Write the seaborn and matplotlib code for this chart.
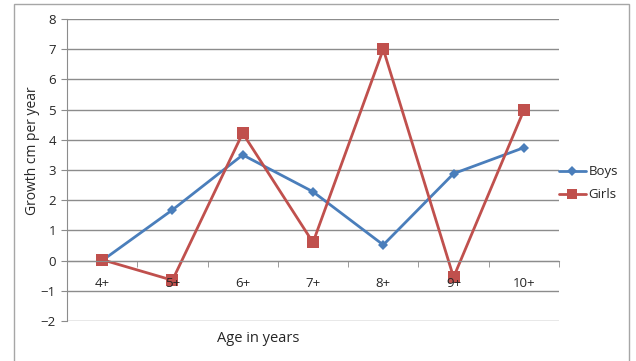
import matplotlib
matplotlib.use("Agg")
import matplotlib.pyplot as plt
from matplotlib.patches import Rectangle
from matplotlib.lines import Line2D
from matplotlib.ticker import FixedLocator
import seaborn as sns
import pandas as pd

# Growth per year by age group
ages = ["4+", "5+", "6+", "7+", "8+", "9+", "10+"]
boys = [0.0, 1.68, 3.5, 2.28, 0.52, 2.88, 3.74]
girls = [0.03, -0.65, 4.22, 0.6, 7.0, -0.55, 4.98]
series_names = ["Boys", "Girls"]
y_ticks = [-2, -1, 0, 1, 2, 3, 4, 5, 6, 7, 8]

df = pd.DataFrame({
    "age": ages * 2,
    "growth": boys + girls,
    "group": [series_names[0]] * len(ages) + [series_names[1]] * len(ages),
})

sns.set_style("white")
plt.rcParams["font.family"] = ["Open Sans", "DejaVu Sans"]

blue = "#4A7EBB"
red = "#C0504D"
grid_c = "#8C8C8C"
text_c = "#262626"

fig = plt.figure(figsize=(6.36, 3.61), dpi=100)
ax = fig.add_axes([67 / 636, 1 - 321 / 361, (559 - 67) / 636, (321 - 19) / 361])

sns.lineplot(
    data=df, x="age", y="growth", hue="group", style="group",
    palette={"Boys": blue, "Girls": red},
    markers={"Boys": "D", "Girls": "s"}, dashes=False,
    markersize=7, linewidth=2.0, markeredgewidth=0,
    sort=False, ax=ax, legend=False,
)
for line, ms in zip(ax.lines, [5.5, 8]):
    line.set_markersize(ms)
    line.set_zorder(2)

ax.set_xlim(-0.5, len(ages) - 0.5)
ax.set_ylim(-2, 8)
ax.set_yticks(y_ticks)
# horizontal gridlines kept beneath the series; axis labels stay on top
for yv in y_ticks:
    ax.axhline(yv, color=grid_c, linewidth=1.0, zorder=0.5)
ax.set_axisbelow(False)

for side in ["top", "right"]:
    ax.spines[side].set_visible(False)
ax.spines["left"].set_color(grid_c)
ax.spines["bottom"].set_color(grid_c)
ax.spines["bottom"].set_position(("data", 0))

ax.tick_params(axis="y", left=True, length=4, color=grid_c, labelsize=9.5,
               labelcolor=text_c, pad=4)
ax.xaxis.set_minor_locator(FixedLocator([i + 0.5 for i in range(-1, len(ages))]))
ax.tick_params(axis="x", which="minor", bottom=True, length=4, color=grid_c)
ax.tick_params(axis="x", which="major", bottom=False, length=0, pad=12,
               labelsize=9.5, labelcolor=text_c)

ax.set_xlabel("")
ax.set_ylabel("")
fig.text(33 / 636, 1 - 151 / 361, "Growth cm per year", rotation=90,
         ha="center", va="center", fontsize=10, color=text_c)
fig.text(258 / 636, 1 - 339 / 361, "Age in years", ha="center", va="center",
         fontsize=10.5, color=text_c)

# legend on the right
handles = [
    Line2D([], [], color=blue, marker="D", markersize=5.5, linewidth=2.0, markeredgewidth=0),
    Line2D([], [], color=red, marker="s", markersize=7, linewidth=2.0, markeredgewidth=0),
]
leg = fig.legend(handles, series_names, loc="upper left",
                 bbox_to_anchor=(554 / 636, 1 - 160 / 361), frameon=False,
                 handlelength=2.0, handletextpad=0.2, labelspacing=0.75,
                 fontsize=9.5, borderaxespad=0)
for t in leg.get_texts():
    t.set_color(text_c)

# chart border
fig.patches.append(Rectangle((14 / 636, -0.05), (629 - 14) / 636, 1.05 - 4 / 361,
                             transform=fig.transFigure, fill=False,
                             edgecolor="#A6A6A6", linewidth=1.0))

fig.savefig("out.png", dpi=100)
